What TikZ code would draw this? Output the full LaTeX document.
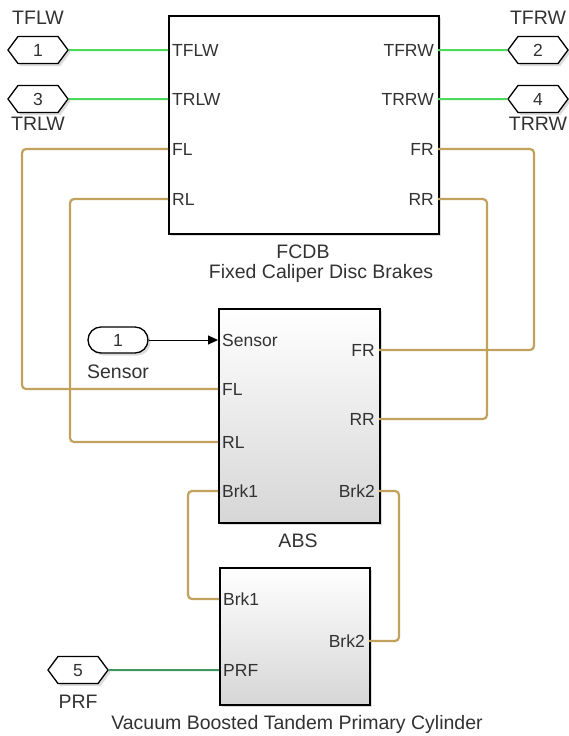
\documentclass[tikz,border=0pt]{standalone}
\usepackage{fontspec}
\setmainfont{Liberation Sans}
\usetikzlibrary{shapes.symbols,shadows,arrows.meta}
\definecolor{sig}{RGB}{76,218,92}
\definecolor{phys}{RGB}{192,162,92}
\definecolor{prfc}{RGB}{62,150,96}
\definecolor{txt}{RGB}{50,50,50}
\begin{document}
\begin{tikzpicture}[x=1pt,y=-1pt,
  every node/.style={font=\fontsize{17.5}{20}\selectfont, text=txt},
  shd/.style={drop shadow={shadow xshift=2.5pt, shadow yshift=-2.5pt, opacity=0.28}},
  blk/.style={draw=black, line width=1.5pt, inner sep=0pt, anchor=north west, shd},
  shadedblk/.style={blk, top color=white, bottom color=black!16},
  port/.style={shape=signal, signal to=east and west, signal pointer angle=107,
    draw=black, line width=1.3pt, fill=white, minimum width=60pt, minimum height=27pt,
    inner sep=0pt, text height=12.2pt, text depth=0pt, shd},
  inport/.style={draw=black, line width=1.3pt, fill=white, rounded corners=13pt,
    minimum width=60pt, minimum height=26pt, inner sep=0pt, text height=12.2pt, text depth=0pt, shd},
  lab/.style={inner sep=0pt, text height=12.2pt, text depth=0pt},
  big/.style={lab, font=\fontsize{19.5}{22}\selectfont, text height=14pt},
  lpl/.style={lab, anchor=west, xshift=4pt},
  rpl/.style={lab, anchor=east, xshift=-4pt},
  sigline/.style={draw=sig, line width=2pt},
  physline/.style={draw=phys, line width=2.2pt, rounded corners=4pt},
  prfline/.style={draw=prfc, line width=2pt},
  arrline/.style={draw=black, line width=1pt, -{Triangle[length=10pt,width=9pt]}}
]
\useasboundingbox (0,0) rectangle (569,736);

% blocks
\node[blk, fill=white, minimum width=270pt, minimum height=218pt] (fcdb) at (168,15) {};
\node[shadedblk, minimum width=161pt, minimum height=214pt] (abs) at (218,308) {};
\node[shadedblk, minimum width=150pt, minimum height=137pt] (vb) at (219,567) {};

% port coordinates
\coordinate (fcdb-tflw) at (168,50);
\coordinate (fcdb-trlw) at (168,99);
\coordinate (fcdb-fl) at (168,149);
\coordinate (fcdb-rl) at (168,199);
\coordinate (fcdb-tfrw) at (438,50);
\coordinate (fcdb-trrw) at (438,99);
\coordinate (fcdb-fr) at (438,149);
\coordinate (fcdb-rr) at (438,199);
\coordinate (abs-sensor) at (218,340);
\coordinate (abs-fl) at (218,389);
\coordinate (abs-rl) at (218,442);
\coordinate (abs-brk1) at (218,491);
\coordinate (abs-fr) at (379,350);
\coordinate (abs-rr) at (379,419);
\coordinate (abs-brk2) at (379,491);
\coordinate (vb-brk1) at (219,599);
\coordinate (vb-prf) at (219,670);
\coordinate (vb-brk2) at (369,641);

% port labels
\node[lpl] (l1) at (fcdb-tflw) {TFLW};
\node[lpl] (l2) at (fcdb-trlw) {TRLW};
\node[lpl] (l3) at (fcdb-fl) {FL};
\node[lpl] (l4) at (fcdb-rl) {RL};
\node[rpl] (l5) at (fcdb-tfrw) {TFRW};
\node[rpl] (l6) at (fcdb-trrw) {TRRW};
\node[rpl] (l7) at (fcdb-fr) {FR};
\node[rpl] (l8) at (fcdb-rr) {RR};
\node[lpl] (l9) at (abs-sensor) {Sensor};
\node[lpl] (l10) at (abs-fl) {FL};
\node[lpl] (l11) at (abs-rl) {RL};
\node[lpl] (l12) at (abs-brk1) {Brk1};
\node[rpl] (l13) at (abs-fr) {FR};
\node[rpl] (l14) at (abs-rr) {RR};
\node[rpl] (l15) at (abs-brk2) {Brk2};
\node[lpl] (l16) at (vb-brk1) {Brk1};
\node[lpl] (l17) at (vb-prf) {PRF};
\node[rpl] (l18) at (vb-brk2) {Brk2};

% block names
\node[big] (n1) at (303,251) {FCDB};
\node[big] (n2) at (321,271) {Fixed Caliper Disc Brakes};
\node[big] (n3) at (298,540) {ABS};
\node[big] (n4) at (297,722) {Vacuum Boosted Tandem Primary Cylinder};

% external ports
\node[port] (in1) at (38,50) {1};
\node[port] (in3) at (38,99) {3};
\node[port] (out2) at (538,50) {2};
\node[port] (out4) at (538,99) {4};
\node[port] (in5) at (78,670) {5};
\node[inport] (sensor) at (118,340) {1};
\node[big] (t1) at (38,17) {TFLW};
\node[big] (t3) at (38,123) {TRLW};
\node[big] (t2) at (538,17) {TFRW};
\node[big] (t4) at (538,123) {TRRW};
\node[big] (t5) at (78,701) {PRF};
\node[big] (ts) at (118,371) {Sensor};

% connectors
\draw[sigline] (in1) -- (fcdb-tflw);
\draw[sigline] (in3) -- (fcdb-trlw);
\draw[sigline] (out2) -- (fcdb-tfrw);
\draw[sigline] (out4) -- (fcdb-trrw);
\draw[prfline] (in5) -- (vb-prf);
\draw[arrline] (sensor) -- (abs-sensor);
\draw[physline] (fcdb-fl) -- (22,149) -- (22,389) -- (abs-fl);
\draw[physline] (fcdb-rl) -- (70,199) -- (70,442) -- (abs-rl);
\draw[physline] (fcdb-fr) -- (534,149) -- (534,350) -- (abs-fr);
\draw[physline] (fcdb-rr) -- (487,199) -- (487,419) -- (abs-rr);
\draw[physline] (abs-brk1) -- (188,491) -- (188,599) -- (vb-brk1);
\draw[physline] (abs-brk2) -- (399,491) -- (399,641) -- (vb-brk2);
\end{tikzpicture}
\end{document}
